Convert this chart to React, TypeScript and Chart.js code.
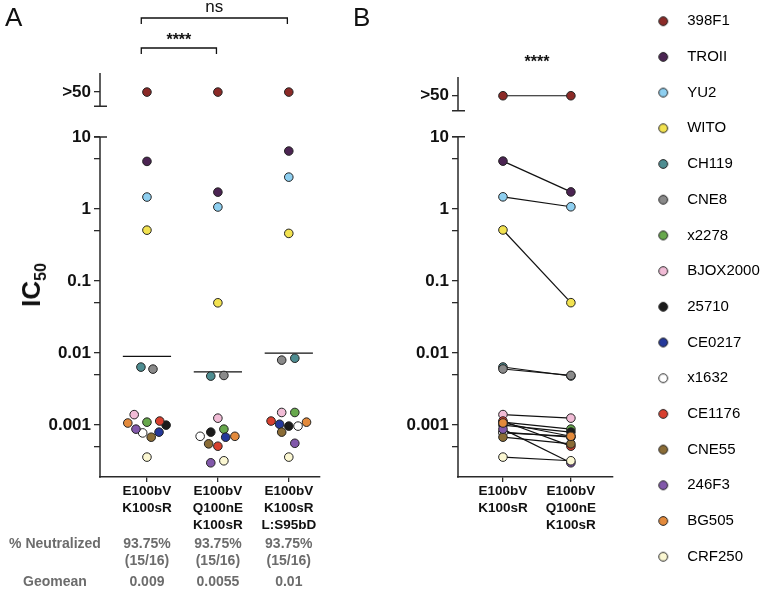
import React, { useEffect, useRef } from 'react';
import { Chart, registerables } from 'chart.js';

Chart.register(...registerables);

const FONT = '"Liberation Sans", Arial, Helvetica, sans-serif';
const AXIS = '#2a2a2a';
const TEXT = '#111111';
const GREY_TEXT = '#6c6c6c';
const POINT_EDGE = '#222222';

const OVER = '>50';

const strains = ['398F1', 'TROII', 'YU2', 'WITO', 'CH119', 'CNE8', 'x2278', 'BJOX2000', '25710', 'CE0217', 'x1632', 'CE1176', 'CNE55', '246F3', 'BG505', 'CRF250'];
const strainColors = ['#8b2a27', '#4b2452', '#8ecff0', '#f2e250', '#4e8d91', '#8a8a8a', '#67a84c', '#f1bcd6', '#1b1b1b', '#24389a', '#ffffff', '#d8402f', '#8a6c36', '#8158aa', '#e38a3c', '#fbf7d2'];

const constructs = [
  ['E100bV', 'K100sR'],
  ['E100bV', 'Q100nE', 'K100sR'],
  ['E100bV', 'K100sR', 'L:S95bD'],
];

// IC50 per strain (same order as strains)
const ic50K100sR = [OVER, 4.6, 1.47, 0.51, 0.0064, 0.006, 0.0011, 0.0014, 0.001, 0.0008, 0.00078, 0.00114, 0.00068, 0.00088, 0.00107, 0.00036];
const ic50Q100nE = [OVER, 1.72, 1.07, 0.05, 0.0048, 0.0049, 0.00088, 0.00125, 0.0008, 0.00068, 0.0007, 0.00051, 0.00055, 0.0003, 0.0007, 0.00032];
const ic50S95bD = [OVER, 6.4, 2.78, 0.46, 0.0085, 0.008, 0.0015, 0.0015, 0.00097, 0.00103, 0.00097, 0.00114, 0.0008, 0.00056, 0.0011, 0.00036];

// horizontal spread of points inside each column (category units)
const spreadK100sR = [0, 0, 0, 0, -0.085, 0.085, 0, -0.18, 0.27, 0.17, -0.06, 0.18, 0.06, -0.155, -0.27, 0];
const spreadQ100nE = [0, 0, 0, 0, -0.1, 0.085, 0.085, 0, -0.1, 0.11, -0.25, 0, -0.13, -0.1, 0.24, 0.085];
const spreadS95bD = [0, 0, 0, 0, 0.085, -0.1, 0.085, -0.1, 0, -0.13, 0.13, -0.25, -0.1, 0.085, 0.25, 0];

const geomeans = [0.009, 0.0055, 0.01];
const geomeanLabels = ['0.009', '0.0055', '0.01'];
const neutralizedPct = ['93.75%', '93.75%', '93.75%'];
const neutralizedFrac = ['(15/16)', '(15/16)', '(15/16)'];

const yMajorTicks = [0.001, 0.01, 0.1, 1, 10];
const yMajorLabels = ['0.001', '0.01', '0.1', '1', '10'];
const yMinorTicks = [0.0005, 0.005, 0.05, 0.5, 5];

const comparisonsA = [
  { from: 1, to: 3, text: 'ns' },
  { from: 1, to: 2, text: '****' },
];
const comparisonB = '****';

const Y_MIN = -3.72;
const X_AXIS_HEIGHT = 113;

type PanelCfg = {
  yMax: number; overPos: number; segBottom: number; yAxisWidth: number;
  padTop: number; padRight: number; xMin: number; xMax: number; labels: string[][];
};

const panelA: PanelCfg = { yMax: 1.89, overPos: 1.625, segBottom: 1.43, yAxisWidth: 100, padTop: 73, padRight: 20, xMin: 0.338, xMax: 3.44, labels: constructs };
const panelB: PanelCfg = { yMax: 1.83, overPos: 1.57, segBottom: 1.36, yAxisWidth: 118, padTop: 77, padRight: 27, xMin: 0.338, xMax: 2.62, labels: [constructs[0], constructs[1]] };

const ly = (v: any, cfg: PanelCfg) => (v === OVER ? cfg.overPos : Math.log10(v));

function yLabel(value: number, cfg: PanelCfg) {
  if (Math.abs(value - cfg.overPos) < 1e-6) return OVER;
  for (let i = 0; i < yMajorTicks.length; i++) {
    if (Math.abs(Math.log10(yMajorTicks[i]) - value) < 1e-6) return yMajorLabels[i];
  }
  return '';
}

function scalesFor(cfg: PanelCfg) {
  return {
    x: {
      type: 'linear', min: cfg.xMin, max: cfg.xMax,
      afterBuildTicks: (scale: any) => { scale.ticks = cfg.labels.map((_, i) => ({ value: i + 1 })); },
      afterFit: (scale: any) => { scale.height = X_AXIS_HEIGHT; },
      border: { display: true, color: AXIS, width: 1.5 },
      grid: { display: true, drawOnChartArea: false, drawTicks: true, tickLength: 5, color: AXIS, lineWidth: 1.3 },
      ticks: {
        autoSkip: false, maxRotation: 0, minRotation: 0, padding: 1, color: TEXT,
        font: { family: FONT, size: 13.5, weight: 'bold', lineHeight: 1.25 },
        callback: (value: number) => cfg.labels[Math.round(value) - 1] ?? '',
      },
    },
    y: {
      type: 'linear', position: 'left', min: Y_MIN, max: cfg.yMax,
      afterBuildTicks: (scale: any) => {
        const vals = [...yMinorTicks.map((v) => Math.log10(v)), ...yMajorTicks.map((v) => Math.log10(v)), cfg.overPos];
        scale.ticks = vals.sort((a, b) => a - b).map((value) => ({ value }));
      },
      afterFit: (scale: any) => { scale.width = cfg.yAxisWidth; },
      border: { display: false },
      grid: { display: true, drawOnChartArea: false, drawTicks: true, tickLength: 6, color: AXIS, lineWidth: 1.3 },
      ticks: {
        autoSkip: false, padding: 3, color: TEXT,
        font: { family: FONT, size: 17, weight: 'bold' },
        callback: (value: number) => yLabel(value, cfg),
      },
    },
  };
}

function brokenAxisPlugin(cfg: PanelCfg, extra: (chart: any) => void) {
  return {
    id: 'brokenAxis',
    afterDraw(chart: any) {
      const { ctx, chartArea, scales } = chart;
      const y = scales.y;
      const ax = chartArea.left;
      const yTop = y.getPixelForValue(cfg.yMax);
      const ySeg = y.getPixelForValue(cfg.segBottom);
      const y10 = y.getPixelForValue(1);
      ctx.save();
      ctx.strokeStyle = AXIS;
      ctx.lineWidth = 1.5;
      ctx.beginPath();
      ctx.moveTo(ax, yTop);
      ctx.lineTo(ax, ySeg);
      ctx.moveTo(ax - 6, ySeg);
      ctx.lineTo(ax + 7, ySeg);
      ctx.moveTo(ax - 6, y10);
      ctx.lineTo(ax + 7, y10);
      ctx.moveTo(ax, y10);
      ctx.lineTo(ax, chartArea.bottom + 0.75);
      ctx.stroke();
      ctx.restore();
      extra(chart);
    },
  };
}

function drawPanelAExtras(chart: any) {
  const { ctx, scales } = chart;
  const x = scales.x;
  ctx.save();
  ctx.strokeStyle = TEXT;
  ctx.fillStyle = TEXT;
  ctx.lineWidth = 1.3;
  const levels = [18, 48];
  comparisonsA.forEach((c, k) => {
    const x1 = x.getPixelForValue(c.from - 0.08);
    const x2 = x.getPixelForValue(c.to - 0.02);
    const yy = levels[k];
    ctx.beginPath();
    ctx.moveTo(x1, yy + 6);
    ctx.lineTo(x1, yy);
    ctx.lineTo(x2, yy);
    ctx.lineTo(x2, yy + 6);
    ctx.stroke();
    ctx.textAlign = 'center';
    ctx.textBaseline = 'alphabetic';
    if (c.text === 'ns') {
      ctx.font = `17px ${FONT}`;
      ctx.fillText(c.text, (x1 + x2) / 2, yy - 6);
    } else {
      ctx.font = `bold 16px ${FONT}`;
      ctx.fillText(c.text, (x1 + x2) / 2, yy - 3);
    }
  });
  // table below the axis
  ctx.fillStyle = GREY_TEXT;
  ctx.font = `bold 14px ${FONT}`;
  ctx.textAlign = 'center';
  ctx.textBaseline = 'middle';
  ctx.fillText('% Neutralized', 55, 544);
  ctx.fillText('Geomean', 55, 582);
  constructs.forEach((_, i) => {
    const px = x.getPixelForValue(i + 1);
    ctx.fillText(neutralizedPct[i], px, 544);
    ctx.fillText(neutralizedFrac[i], px, 561);
    ctx.fillText(geomeanLabels[i], px, 582);
  });
  ctx.restore();
}

function drawPanelBExtras(chart: any) {
  const { ctx, scales } = chart;
  const x = scales.x;
  ctx.save();
  ctx.fillStyle = TEXT;
  ctx.font = `bold 16px ${FONT}`;
  ctx.textAlign = 'center';
  ctx.textBaseline = 'alphabetic';
  ctx.fillText(comparisonB, (x.getPixelForValue(1) + x.getPixelForValue(2)) / 2, 67);
  ctx.restore();
}

function legendMarker(color: string) {
  const c = document.createElement('canvas');
  c.width = 30;
  c.height = 12;
  const g = c.getContext('2d')!;
  g.beginPath();
  g.arc(6, 6, 4.4, 0, Math.PI * 2);
  g.fillStyle = color;
  g.fill();
  g.lineWidth = 1;
  g.strokeStyle = POINT_EDGE;
  g.stroke();
  return c;
}

// later strains are drawn on top of earlier ones
const pointStyleFor = (i: number) => ({
  pointRadius: 4.3, pointHoverRadius: 4.3, pointBorderWidth: 1,
  pointBorderColor: POINT_EDGE, pointBackgroundColor: strainColors[i],
  backgroundColor: strainColors[i], borderColor: POINT_EDGE,
  order: strains.length - i,
});

const baseOptions = (cfg: PanelCfg) => ({
  responsive: false, maintainAspectRatio: false, animation: false, events: [],
  layout: { padding: { top: cfg.padTop, right: cfg.padRight, left: 0, bottom: 0 } },
  plugins: { legend: { display: false }, tooltip: { enabled: false } },
  scales: scalesFor(cfg),
});

export default function App() {
  const aRef = useRef<HTMLCanvasElement>(null);
  const bRef = useRef<HTMLCanvasElement>(null);
  const lRef = useRef<HTMLCanvasElement>(null);

  useEffect(() => {
    const charts: Chart[] = [];
    const columnsA = [ic50K100sR, ic50Q100nE, ic50S95bD];
    const spreads = [spreadK100sR, spreadQ100nE, spreadS95bD];

    // Panel A
    const pointsA = strains.map((name, i) => ({
      label: name,
      data: columnsA.map((col, c) => ({ x: c + 1 + spreads[c][i], y: ly(col[i], panelA) })),
      showLine: false,
      ...pointStyleFor(i),
    }));
    const geoA = geomeans.map((g, c) => ({
      label: 'Geomean',
      data: [{ x: c + 1 - 0.34, y: Math.log10(g) }, { x: c + 1 + 0.34, y: Math.log10(g) }],
      showLine: true, borderColor: TEXT, borderWidth: 1.3, pointRadius: 0, order: 100,
    }));
    charts.push(new Chart(aRef.current!, {
      type: 'scatter',
      data: { datasets: [...pointsA, ...geoA] as any },
      options: baseOptions(panelA) as any,
      plugins: [brokenAxisPlugin(panelA, drawPanelAExtras)],
    }));

    // Panel B
    const pairCols = [ic50K100sR, ic50Q100nE];
    const linesB = strains.map((name, i) => ({
      label: name + ' pair',
      data: pairCols.map((col, c) => ({ x: c + 1, y: ly(col[i], panelB) })),
      showLine: true, borderColor: TEXT, borderWidth: 1.2, pointRadius: 0, order: 100,
    }));
    const pointsB = strains.map((name, i) => ({
      label: name,
      data: pairCols.map((col, c) => ({ x: c + 1, y: ly(col[i], panelB) })),
      showLine: false,
      ...pointStyleFor(i),
    }));
    charts.push(new Chart(bRef.current!, {
      type: 'scatter',
      data: { datasets: [...pointsB, ...linesB] as any },
      options: baseOptions(panelB) as any,
      plugins: [brokenAxisPlugin(panelB, drawPanelBExtras)],
    }));

    // Legend
    const markers = strainColors.map((c) => legendMarker(c));
    charts.push(new Chart(lRef.current!, {
      type: 'scatter',
      data: { datasets: strains.map((name, i) => ({ label: name, data: [], backgroundColor: strainColors[i], borderColor: POINT_EDGE })) },
      options: {
        responsive: false, maintainAspectRatio: false, animation: false, events: [],
        layout: { padding: 0 },
        scales: { x: { display: false }, y: { display: false } },
        plugins: {
          tooltip: { enabled: false },
          legend: {
            display: true, position: 'left', align: 'start', maxWidth: 400,
            labels: {
              usePointStyle: true, padding: 20.7, color: '#222222',
              font: { family: FONT, size: 15 },
              generateLabels: (chart: any) => chart.data.datasets.map((d: any, i: number) => ({
                text: d.label, pointStyle: markers[i], fillStyle: strainColors[i],
                strokeStyle: POINT_EDGE, lineWidth: 1, hidden: false, datasetIndex: i,
              })),
            },
          },
        },
      } as any,
    }));

    return () => charts.forEach((c) => c.destroy());
  }, []);

  return (
    <div style={{ position: 'absolute', left: 0, top: 0, width: 762, height: 590, overflow: 'hidden', background: '#ffffff' }}>
      <canvas ref={aRef} width={340} height={590} style={{ position: 'absolute', left: 0, top: 0, width: 340, height: 590 }} />
      <canvas ref={bRef} width={300} height={590} style={{ position: 'absolute', left: 340, top: 0, width: 300, height: 590 }} />
      <canvas ref={lRef} width={200} height={597} style={{ position: 'absolute', left: 644, top: -7, width: 200, height: 597 }} />
      <div style={{ position: 'absolute', left: 5, top: 4, fontFamily: FONT, fontSize: 26, lineHeight: '26px', color: TEXT }}>A</div>
      <div style={{ position: 'absolute', left: 353, top: 4, fontFamily: FONT, fontSize: 26, lineHeight: '26px', color: TEXT }}>B</div>
      <div style={{ position: 'absolute', left: 31, top: 285, transform: 'translate(-50%, -50%) rotate(-90deg)', fontFamily: FONT, fontWeight: 'bold', fontSize: 26, lineHeight: '28px', color: TEXT, whiteSpace: 'nowrap' }}>
        IC<sub style={{ fontSize: 16, lineHeight: 0 }}>50</sub>
      </div>
    </div>
  );
}
